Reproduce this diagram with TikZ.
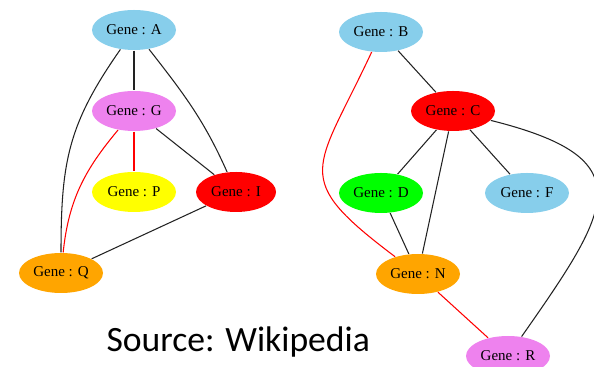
\documentclass[tikz,border=0pt]{standalone}
\usepackage{fontspec}
\setmainfont{Liberation Serif}
\newfontfamily\srcfont{Carlito}
\usetikzlibrary{shapes.geometric}
\definecolor{gsky}{HTML}{87CEEB}
\definecolor{gviolet}{HTML}{EE82EE}
\definecolor{gyellow}{HTML}{FFFF00}
\definecolor{gred}{HTML}{FF0000}
\definecolor{gorange}{HTML}{FFA500}
\definecolor{ggreen}{HTML}{00FF00}
\definecolor{glink}{HTML}{222222}
\tikzset{
  every picture/.style={line width=0.9pt},
  gene/.style={ellipse, fill=#1, draw=none, inner sep=0pt, minimum width=2.52cm, minimum height=1.2cm,
               font=\fontsize{12.8}{14}\selectfont},
  gene/.default=gsky,
  link/.style={draw=glink},
  redlink/.style={draw=gred},
  source/.style={font=\srcfont\fontsize{30.4}{34}\selectfont, inner sep=0pt, anchor=base west},
}

\begin{document}
\begin{tikzpicture}
  \clip (0,0) rectangle (17.82,11.01);
  % left network
  \node[gene=gsky] (geneA) at (4.02,10.11) {Gene : A};
  \node[gene=gviolet] (geneG) at (4.02,7.68) {Gene : G};
  \node[gene=gyellow] (geneP) at (4.02,5.25) {Gene : P};
  \node[gene=gred, minimum width=2.4cm] (geneI) at (7.08,5.25) {Gene : I};
  \node[gene=gorange] (geneQ) at (1.83,2.82) {Gene : Q};
  \draw[link] (geneA) -- (geneG);
  \draw[link] (geneA) to[out=-125, in=90, looseness=1.1] (geneQ);
  \draw[link] (geneA) to[out=-52, in=114] (geneI);
  \draw[redlink] (geneG) -- (geneP);
  \draw[link] (geneG) -- (geneI);
  \draw[redlink] (geneG) to[out=-130, in=84] (geneQ);
  \draw[link] (geneI) -- (geneQ);
  % right network
  \node[gene=gsky] (geneB) at (11.43,10.05) {Gene : B};
  \node[gene=gred] (geneC) at (13.59,7.68) {Gene : C};
  \node[gene=ggreen] (geneD) at (11.43,5.22) {Gene : D};
  \node[gene=gsky] (geneF) at (15.81,5.22) {Gene : F};
  \node[gene=gorange] (geneN) at (12.54,2.79) {Gene : N};
  \node[gene=gviolet] (geneR) at (15.24,0.33) {Gene : R};
  \draw[link] (geneB) -- (geneC);
  \draw[redlink] (geneB) to[out=-115, in=143, looseness=1.65] (geneN);
  \draw[link] (geneC) -- (geneD);
  \draw[link] (geneC) -- (geneF);
  \draw[link] (geneC) -- (geneN);
  \draw[link] (geneC) to[out=-14, in=55, looseness=1.85] (geneR);
  \draw[link] (geneD) -- (geneN);
  \draw[redlink] (geneN) -- (geneR);
  \node[source] (src) at (3.18,0.45) {Source: Wikipedia};
\end{tikzpicture}
\end{document}
